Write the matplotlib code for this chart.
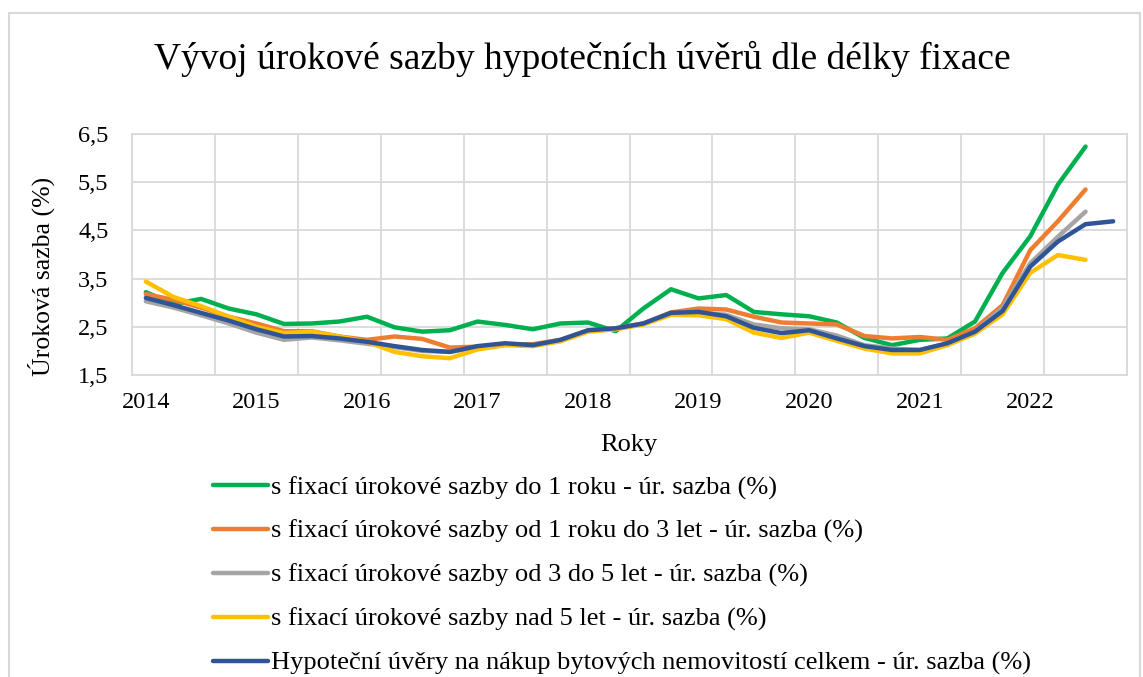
import matplotlib.pyplot as plt
from matplotlib.patches import Rectangle

# quarterly data 2014Q1 .. 2022Q4
years = [str(y) for y in range(2014, 2023)]
y_ticks = [1.5, 2.5, 3.5, 4.5, 5.5, 6.5]
y_labels = ['1,5', '2,5', '3,5', '4,5', '5,5', '6,5']

fix_1 = [3.22, 2.97, 3.08, 2.88, 2.76, 2.56, 2.57, 2.61, 2.71, 2.49, 2.40, 2.43,
         2.61, 2.54, 2.45, 2.57, 2.59, 2.41, 2.88, 3.28, 3.09, 3.16, 2.81, 2.76,
         2.72, 2.59, 2.27, 2.12, 2.23, 2.26, 2.61, 3.62, 4.38, 5.45, 6.24]
fix_1_3 = [3.18, 3.06, 2.90, 2.71, 2.57, 2.41, 2.41, 2.30, 2.23, 2.30, 2.25, 2.07,
           2.09, 2.14, 2.14, 2.23, 2.42, 2.47, 2.57, 2.80, 2.88, 2.86, 2.71, 2.59,
           2.57, 2.55, 2.31, 2.26, 2.29, 2.23, 2.47, 2.95, 4.09, 4.69, 5.35]
fix_3_5 = [3.03, 2.90, 2.74, 2.57, 2.38, 2.23, 2.28, 2.22, 2.15, 2.08, 2.00, 1.98,
           2.08, 2.14, 2.12, 2.22, 2.42, 2.46, 2.56, 2.78, 2.80, 2.75, 2.55, 2.47,
           2.45, 2.32, 2.12, 2.05, 2.02, 2.15, 2.40, 2.90, 3.82, 4.37, 4.89]
fix_5 = [3.44, 3.12, 2.93, 2.71, 2.50, 2.37, 2.40, 2.30, 2.19, 1.98, 1.89, 1.85,
         2.03, 2.12, 2.10, 2.20, 2.40, 2.45, 2.55, 2.75, 2.74, 2.66, 2.38, 2.27,
         2.38, 2.21, 2.05, 1.95, 1.95, 2.12, 2.36, 2.76, 3.62, 3.99, 3.89]
total = [3.10, 2.95, 2.79, 2.63, 2.45, 2.30, 2.31, 2.26, 2.19, 2.10, 2.02, 1.98,
         2.10, 2.16, 2.12, 2.23, 2.43, 2.47, 2.57, 2.79, 2.81, 2.72, 2.48, 2.37,
         2.43, 2.26, 2.10, 2.02, 2.02, 2.16, 2.40, 2.83, 3.75, 4.27, 4.63, 4.69]

series = [
    (fix_1, 's fixací úrokové sazby do 1 roku - úr. sazba (%)', '#00B050'),
    (fix_1_3, 's fixací úrokové sazby od 1 roku do 3 let - úr. sazba (%)', '#ED7D31'),
    (fix_3_5, 's fixací úrokové sazby od 3 do 5 let - úr. sazba (%)', '#A5A5A5'),
    (fix_5, 's fixací úrokové sazby nad 5 let - úr. sazba (%)', '#FFC000'),
    (total, 'Hypoteční úvěry na nákup bytových nemovitostí celkem - úr. sazba (%)', '#2F5597'),
]

plt.rcParams['font.family'] = 'Liberation Serif'

fig = plt.figure(figsize=(11.43, 6.77), dpi=100)
ax = fig.add_axes([0.1155, 0.446, 0.8705, 0.356])

for vals, label, color in series:
    ax.plot(range(len(vals)), vals, color=color, lw=3.2, label=label,
            solid_capstyle='round', solid_joinstyle='round')

n = 36
ax.set_xlim(-0.5, n - 0.5)
ax.set_ylim(1.5, 6.5)
ax.set_xticks(range(0, n, 4))
ax.set_xticklabels(years, fontsize=17.5)
ax.set_xticks([i - 0.5 for i in range(0, n + 1, 3)], minor=True)
ax.set_yticks(y_ticks)
ax.set_yticklabels(y_labels, fontsize=17.5)
ax.tick_params(axis='x', which='both', length=0, pad=12)
ax.tick_params(axis='y', length=0, pad=17)
ax.grid(axis='y', color='#D9D9D9', lw=1.3)
ax.grid(axis='x', which='minor', color='#D9D9D9', lw=1.3)
ax.set_axisbelow(True)
for sp in ax.spines.values():
    sp.set_color('#D9D9D9')
    sp.set_linewidth(1.3)

ax.set_xlabel('Roky', fontsize=19)
ax.xaxis.set_label_coords(0.499, -0.245)
ax.set_ylabel('Úroková sazba (%)', fontsize=18.5)
ax.yaxis.set_label_coords(-0.077, 0.41)

fig.text(0.5096, 0.913, 'Vývoj úrokové sazby hypotečních úvěrů dle délky fixace',
         ha='center', va='center', fontsize=27)

fig.legend(loc='upper left', bbox_to_anchor=(0.177, 0.313), frameon=False,
           fontsize=19, handlelength=2.08, handletextpad=0.11, labelspacing=0.76,
           borderaxespad=0)

fig.patches.append(Rectangle((0.008, -0.05), 0.989, 1.031, transform=fig.transFigure,
                             fill=False, edgecolor='#D9D9D9', lw=1.5))

fig.savefig('out.png', dpi=100)
